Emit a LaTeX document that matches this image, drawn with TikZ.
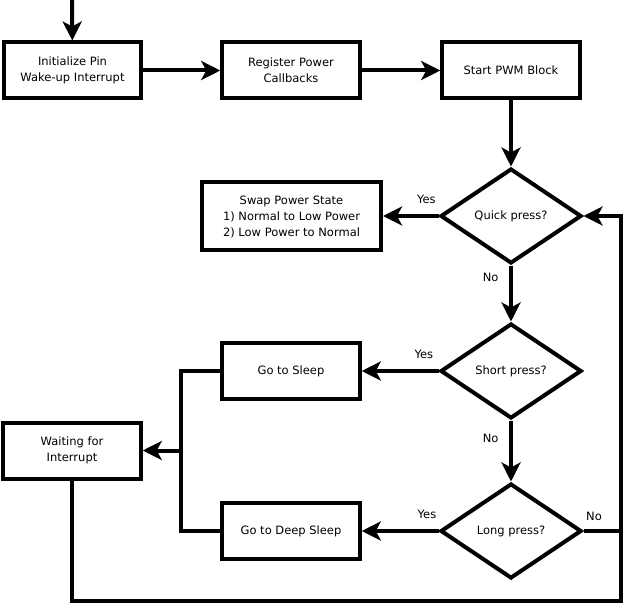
\documentclass[tikz,border=0pt]{standalone}
\usepackage{fontspec}
\setmainfont{DejaVu Sans}
\usetikzlibrary{arrows, arrows.meta, positioning, shapes}
\tikzset{
        >={Stealth[length=19pt, width=19pt, inset=5pt]}, % big filled arrow heads
        every node/.style={font=\fontsize{11.5}{16}\selectfont}, % text size of boxes and labels
    }
\tikzstyle{block}=[draw,rectangle,line width=4pt,minimum width=137.5pt,minimum height=56pt,align=center,inner sep=2pt]
\tikzstyle{decision}=[draw,diamond,line width=4pt,minimum width=141pt,minimum height=95pt,inner sep=0pt,align=center]
\tikzstyle{arrow}=[->,line width=4pt]
\tikzstyle{line}=[line width=3.5pt]
\tikzstyle{lbl}=[inner sep=1pt]

\begin{document}
\begin{tikzpicture}[x=1pt, y=-1pt]
    \useasboundingbox (0,0) rectangle (624,604);

    % top row
    \coordinate (start) at (72,0);
    \node[block] (init) at (72.5,70.5) {Initialize Pin\\Wake-up Interrupt};
    \node[block] (reg) at (291,70.5) {Register Power\\Callbacks};
    \node[block] (pwm) at (511,70.5) {Start PWM Block};

    % decisions
    \node[decision] (quick) at (511,216) {Quick press?};
    \node[decision] (short) at (511,371) {Short press?};
    \node[decision] (long) at (511,531) {Long press?};

    % actions
    \node[block, minimum width=179pt, minimum height=68pt] (swap) at (291.5,216.5)
        {Swap Power State\\1) Normal to Low Power\\2) Low Power to Normal};
    \node[block] (sleep) at (291,371) {Go to Sleep};
    \node[block] (deep) at (291,531) {Go to Deep Sleep};
    \node[block] (wait) at (72,450.5) {Waiting for\\Interrupt};

    \coordinate (bus) at (181,450.5);
    \coordinate (loop) at (621,601);

    \draw[arrow] (start) -- (init);
    \draw[arrow] (init) -- (reg);
    \draw[arrow] (reg) -- (pwm);
    \draw[arrow] (pwm) -- (quick);

    \draw[arrow] (quick) -- node[lbl, pos=.22, above=9.5pt] {Yes} (quick -| swap.east);
    \draw[arrow] (quick) -- node[lbl, pos=.22, left=9.5pt] {No} (short);
    \draw[arrow] (short) -- node[lbl, pos=.19, above=9.5pt] {Yes} (sleep);
    \draw[arrow] (short) -- node[lbl, pos=.3, left=9.5pt] {No} (long);
    \draw[arrow] (long) -- node[lbl, pos=.15, above=9.5pt] {Yes} (deep);
    \draw[line] (long.east) -- node[lbl, pos=.28, above=7.5pt] {No} (long.east -| loop);

    \draw[line] (sleep.west) -| (bus) |- (deep.west);
    \draw[arrow] (bus) -- (wait.east);
    \draw[arrow, line width=3.5pt] (wait.south) |- (loop) |- (quick.east);
\end{tikzpicture}
\end{document}
